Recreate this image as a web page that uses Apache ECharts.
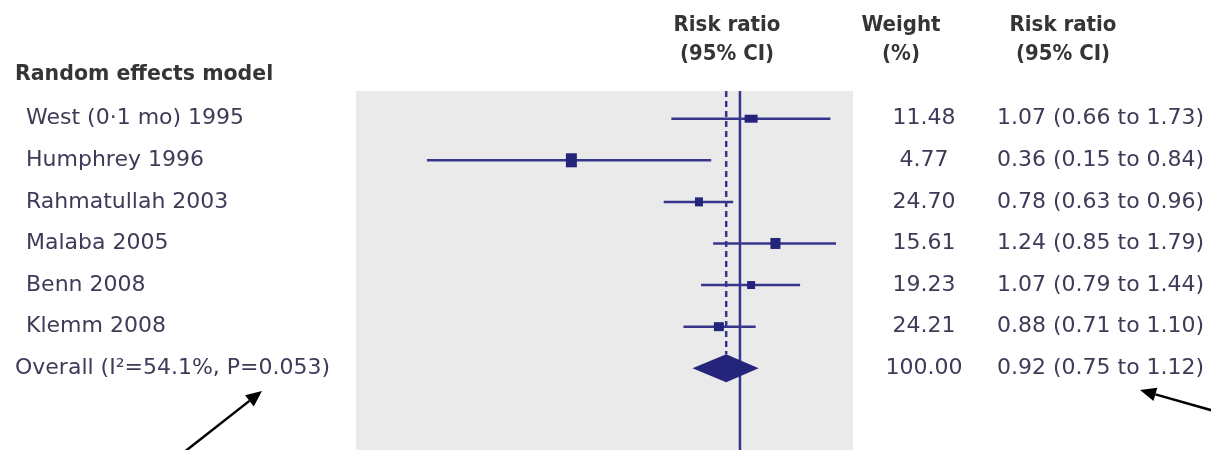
<!DOCTYPE html>
<html>
<head>
<meta charset="utf-8">
<script src="https://cdn.jsdelivr.net/npm/echarts@6/dist/echarts.min.js"></script>
<style>
  html, body { margin: 0; padding: 0; background: #ffffff; }
  #chart { width: 1211px; height: 450px; }
</style>
</head>
<body>
<div id="chart"></div>
<script>
// Trials in the random effects meta-analysis
var studies = ['West (0·1 mo) 1995', 'Humphrey 1996', 'Rahmatullah 2003', 'Malaba 2005', 'Benn 2008', 'Klemm 2008'];
var riskRatio = [1.07, 0.36, 0.78, 1.24, 1.07, 0.88];
var ciLower = [0.66, 0.15, 0.63, 0.85, 0.79, 0.71];
var ciUpper = [1.73, 0.84, 0.96, 1.79, 1.44, 1.10];
var weights = [11.48, 4.77, 24.70, 15.61, 19.23, 24.21];

// Pooled estimate
var overallLabel = 'Overall (I²=54.1%, P=0.053)';
var overallRR = 0.92;
var overallLower = 0.75;
var overallUpper = 1.12;
var overallWeight = 100.00;

// Marker box sizes [width, height] in px, one per trial
var boxSizes = [[13, 8], [11, 14], [8, 9], [10, 11], [8, 8], [10, 9]];

var INK = '#24247a';
var LINE = '#36368c';
var TEXT = '#3c3c58';
var BODY_FONT = '"DejaVu Sans", sans-serif';
var HEAD_FONT = '"DejaVu Sans Condensed", "DejaVu Sans", sans-serif';

var chart = echarts.init(document.getElementById('chart'), null, { renderer: 'canvas' });

function fmt(v) { return v.toFixed(2); }
function ciText(rr, lo, hi) { return fmt(rr) + ' (' + fmt(lo) + ' to ' + fmt(hi) + ')'; }

var Y_MIN = -0.666, Y_MAX = 7.966;
var overallRow = studies.length;

var studyData = studies.map(function (s, i) {
  return [riskRatio[i], ciLower[i], ciUpper[i], i];
});

var tableRows = studies.map(function (s, i) {
  return { value: [1, i], name: s, weight: fmt(weights[i]), ci: ciText(riskRatio[i], ciLower[i], ciUpper[i]), indent: 26 };
});
tableRows.push({ value: [1, overallRow], name: overallLabel, weight: fmt(overallWeight), ci: ciText(overallRR, overallLower, overallUpper), indent: 15 });

function arrow(x0, y0, x1, y1) {
  var dx = x1 - x0, dy = y1 - y0, len = Math.sqrt(dx * dx + dy * dy);
  var ux = dx / len, uy = dy / len, hl = 16, hw = 7;
  var bx = x1 - ux * hl, by = y1 - uy * hl;
  return [
    { type: 'line', shape: { x1: x0, y1: y0, x2: bx, y2: by }, style: { stroke: '#000', lineWidth: 2.5 } },
    { type: 'polygon', shape: { points: [[x1, y1], [bx - uy * hw, by + ux * hw], [bx + uy * hw, by - ux * hw]] }, style: { fill: '#000' } }
  ];
}

var headStyle = { font: 'bold 22px ' + HEAD_FONT, fill: '#353535', textAlign: 'center', textVerticalAlign: 'middle' };

var graphics = [
  { type: 'text', x: 15, y: 75, style: { text: 'Random effects model', font: 'bold 20.5px "DejaVu Sans", sans-serif', fill: '#353535', textAlign: 'left', textVerticalAlign: 'middle' } },
  { type: 'text', x: 727, y: 25, style: Object.assign({ text: 'Risk ratio' }, headStyle) },
  { type: 'text', x: 727, y: 54, style: Object.assign({ text: '(95% CI)' }, headStyle) },
  { type: 'text', x: 901, y: 25, style: Object.assign({ text: 'Weight' }, headStyle) },
  { type: 'text', x: 901, y: 54, style: Object.assign({ text: '(%)' }, headStyle) },
  { type: 'text', x: 1063, y: 25, style: Object.assign({ text: 'Risk ratio' }, headStyle) },
  { type: 'text', x: 1063, y: 54, style: Object.assign({ text: '(95% CI)' }, headStyle) }
].concat(arrow(183, 453, 262, 391)).concat(arrow(1214, 411, 1140, 390));

var option = {
  animation: false,
  grid: {
    left: 356, width: 497, top: 91, height: 362,
    show: true, backgroundColor: '#ebeaea', borderWidth: 0
  },
  xAxis: { type: 'log', min: 0.0976, max: 1.984, show: false },
  yAxis: { type: 'value', inverse: true, min: Y_MIN, max: Y_MAX, show: false },
  graphic: graphics,
  series: [
    {
      // line of no effect and pooled estimate reference
      type: 'custom',
      silent: true,
      data: [[1, 0]],
      renderItem: function (params, api) {
        var top = api.coord([1, Y_MIN]), bottom = api.coord([1, Y_MAX]);
        var dTop = api.coord([overallRR, Y_MIN]), dEnd = api.coord([overallRR, overallRow]);
        return {
          type: 'group',
          children: [
            { type: 'line', shape: { x1: top[0], y1: top[1], x2: bottom[0], y2: bottom[1] }, style: { stroke: LINE, lineWidth: 2.5 } },
            { type: 'line', shape: { x1: dTop[0], y1: dTop[1], x2: dEnd[0], y2: dEnd[1] - 14 }, style: { stroke: LINE, lineWidth: 2.5, lineDash: [6, 4] } }
          ]
        };
      }
    },
    {
      // trial estimates with confidence intervals
      type: 'custom',
      silent: true,
      encode: { x: [0, 1, 2], y: 3 },
      data: studyData,
      renderItem: function (params, api) {
        var row = api.value(3);
        var p = api.coord([api.value(0), row]);
        var lo = api.coord([api.value(1), row]);
        var hi = api.coord([api.value(2), row]);
        var sz = boxSizes[params.dataIndex];
        return {
          type: 'group',
          children: [
            { type: 'line', shape: { x1: lo[0], y1: lo[1], x2: hi[0], y2: hi[1] }, style: { stroke: LINE, lineWidth: 2.5 } },
            { type: 'rect', shape: { x: p[0] - sz[0] / 2, y: p[1] - sz[1] / 2, width: sz[0], height: sz[1] }, style: { fill: INK } }
          ]
        };
      }
    },
    {
      // pooled estimate diamond
      type: 'custom',
      silent: true,
      data: [[overallRR, overallLower, overallUpper, overallRow]],
      renderItem: function (params, api) {
        var row = api.value(3);
        var c = api.coord([api.value(0), row]);
        var l = api.coord([api.value(1), row]);
        var r = api.coord([api.value(2), row]);
        return {
          type: 'polygon',
          shape: { points: [[l[0], l[1]], [c[0], c[1] - 14], [r[0], r[1]], [c[0], c[1] + 14]] },
          style: { fill: INK }
        };
      }
    },
    {
      // table text: study name, weight, risk ratio with CI
      type: 'custom',
      silent: true,
      data: tableRows,
      renderItem: function (params, api) {
        var item = tableRows[params.dataIndex];
        var y = api.coord([1, api.value(1)])[1];
        var base = { font: '22px ' + BODY_FONT, fill: TEXT, textVerticalAlign: 'middle' };
        return {
          type: 'group',
          children: [
            { type: 'text', style: Object.assign({ text: item.name, x: item.indent, y: y, textAlign: 'left' }, base) },
            { type: 'text', style: Object.assign({ text: item.weight, x: 924, y: y, textAlign: 'center' }, base) },
            { type: 'text', style: Object.assign({ text: item.ci, x: 997, y: y, textAlign: 'left' }, base) }
          ]
        };
      }
    }
  ]
};

chart.setOption(option);
</script>
</body>
</html>
